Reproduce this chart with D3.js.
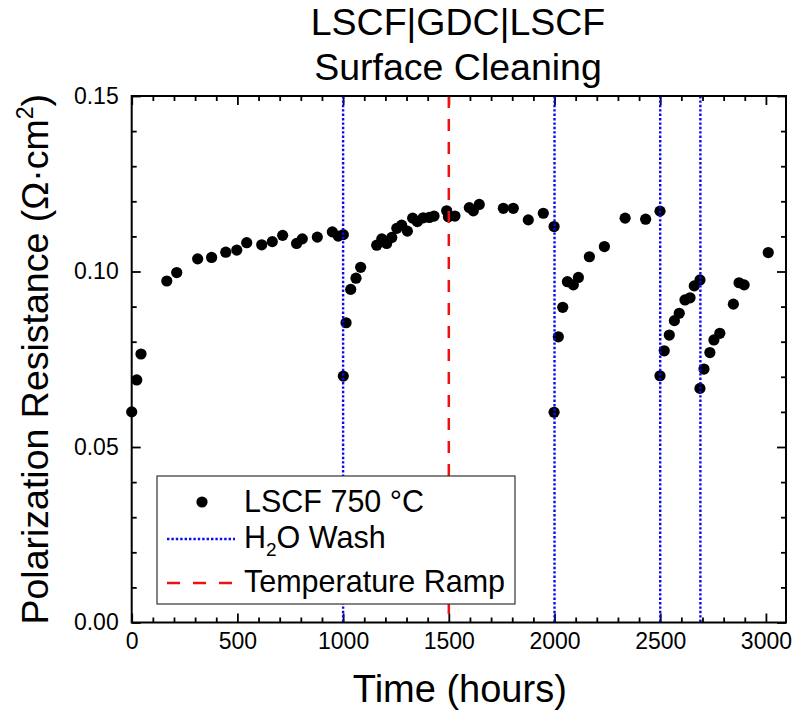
<!DOCTYPE html>
<html>
<head>
<meta charset="utf-8">
<script src="https://cdn.jsdelivr.net/npm/d3@7"></script>
<style>
  body { margin: 0; background: #fff; }
  text { font-family: "Liberation Sans", Arial, sans-serif; }
</style>
</head>
<body>
<div id="chart"></div>
<script>
// time (hours) and polarization resistance (ohm cm2)
const hours = [0, 24, 44, 166, 213, 312, 378, 445, 497, 544, 615, 665, 714, 780, 807, 878, 949, 977, 1001,
  1001, 1014, 1036, 1061, 1083, 1159, 1183, 1206, 1230, 1254, 1277, 1304, 1329, 1351, 1379, 1408, 1430,
  1490, 1498, 1529, 1597, 1616, 1644, 1758, 1805, 1876, 1947, 1998,
  1998, 2018, 2039, 2061, 2089, 2113, 2165, 2236, 2334, 2431, 2499,
  2499, 2519, 2543, 2567, 2590, 2617, 2641, 2661, 2688,
  2688, 2707, 2735, 2754, 2782, 2846, 2873, 2897, 3011];
const resistance = [0.0600, 0.0691, 0.0765, 0.0973, 0.0997, 0.1036, 0.1040, 0.1055, 0.1061, 0.1082, 0.1076, 0.1085, 0.1103, 0.1080, 0.1093, 0.1098, 0.1113, 0.1101, 0.1105,
  0.0702, 0.0854, 0.0949, 0.0981, 0.1012, 0.1075, 0.1093, 0.1080, 0.1097, 0.1123, 0.1132, 0.1115, 0.1152, 0.1142, 0.1153, 0.1154, 0.1158,
  0.1173, 0.1156, 0.1158, 0.1182, 0.1173, 0.1191, 0.1180, 0.1180, 0.1147, 0.1166, 0.1128,
  0.0599, 0.0814, 0.0898, 0.0971, 0.0962, 0.0983, 0.1042, 0.1071, 0.1152, 0.1149, 0.1172,
  0.0703, 0.0774, 0.0819, 0.0860, 0.0881, 0.0919, 0.0925, 0.0959, 0.0976,
  0.0667, 0.0722, 0.0769, 0.0805, 0.0824, 0.0907, 0.0968, 0.0962, 0.1054];
const wash_times = [1000, 2000, 2500, 2690];
const ramp_times = [1500];
const x_ticks = [0, 500, 1000, 1500, 2000, 2500, 3000];
const y_ticks = [0, 0.05, 0.10, 0.15];

const data = hours.map((h, i) => ({ hours: h, value: resistance[i] }));

const width = 792, height = 715;
const margin = { top: 96, right: 6, bottom: 92.5, left: 131.7 };
const inner_w = width - margin.left - margin.right;
const inner_h = height - margin.top - margin.bottom;
const wash_color = "#0a0af0", ramp_color = "#ee1111";

const svg = d3.select("#chart").append("svg")
    .attr("width", width)
    .attr("height", height);
svg.append("rect").attr("width", width).attr("height", height).attr("fill", "#fff");

const g = svg.append("g")
    .attr("transform", `translate(${margin.left},${margin.top})`);

const x = d3.scaleLinear().domain([0, 3095]).range([0, inner_w]);
const y = d3.scaleLinear().domain([0, 0.15]).range([inner_h, 0]);

const x_minor = d3.range(0, 3001, 100).filter(v => v % 500 !== 0);
const y_minor = d3.range(1, 15).map(v => v / 100).filter((v, i) => (i + 1) % 5 !== 0);

function style_axis(sel) {
    sel.select(".domain").remove();
    sel.selectAll("line").attr("stroke", "#000").attr("stroke-width", 1.8);
}

// bottom axis with labels, inward ticks
g.append("g").attr("transform", `translate(0,${inner_h})`)
    .call(d3.axisBottom(x).tickValues(x_ticks).tickSize(-9).tickPadding(10).tickFormat(d3.format("d")))
    .call(style_axis)
    .selectAll("text").attr("font-size", 23).attr("fill", "#000")
    .attr("font-family", "Liberation Sans, Arial, sans-serif");
g.append("g").attr("transform", `translate(0,${inner_h})`)
    .call(d3.axisBottom(x).tickValues(x_minor).tickSize(-5).tickFormat(""))
    .call(style_axis);
// top mirror
g.append("g")
    .call(d3.axisTop(x).tickValues(x_ticks).tickSize(-9).tickFormat(""))
    .call(style_axis);
g.append("g")
    .call(d3.axisTop(x).tickValues(x_minor).tickSize(-5).tickFormat(""))
    .call(style_axis);

// left axis
g.append("g")
    .call(d3.axisLeft(y).tickValues(y_ticks).tickSize(-9).tickPadding(13).tickFormat(d3.format(".2f")))
    .call(style_axis)
    .selectAll("text").attr("font-size", 23).attr("fill", "#000")
    .attr("font-family", "Liberation Sans, Arial, sans-serif");
g.append("g")
    .call(d3.axisLeft(y).tickValues(y_minor).tickSize(-5).tickFormat(""))
    .call(style_axis);
// right mirror
g.append("g").attr("transform", `translate(${inner_w},0)`)
    .call(d3.axisRight(y).tickValues(y_ticks).tickSize(-9).tickFormat(""))
    .call(style_axis);
g.append("g").attr("transform", `translate(${inner_w},0)`)
    .call(d3.axisRight(y).tickValues(y_minor).tickSize(-5).tickFormat(""))
    .call(style_axis);

// data points
g.selectAll(".dot")
    .data(data)
    .enter().append("circle")
    .attr("class", "dot")
    .attr("cx", d => x(d.hours))
    .attr("cy", d => y(d.value))
    .attr("r", 5.6)
    .attr("fill", "#000");

// wash and ramp markers
g.selectAll(".wash")
    .data(wash_times)
    .enter().append("line")
    .attr("class", "wash")
    .attr("x1", d => x(d)).attr("x2", d => x(d))
    .attr("y1", 0).attr("y2", inner_h)
    .attr("stroke", wash_color)
    .attr("stroke-width", 2.4)
    .attr("stroke-dasharray", "2.4,2");

g.selectAll(".ramp")
    .data(ramp_times)
    .enter().append("line")
    .attr("class", "ramp")
    .attr("x1", d => x(d)).attr("x2", d => x(d))
    .attr("y1", 0).attr("y2", inner_h)
    .attr("stroke", ramp_color)
    .attr("stroke-width", 2.5)
    .attr("stroke-dasharray", "12,11");

// frame
g.append("rect")
    .attr("width", inner_w)
    .attr("height", inner_h)
    .attr("fill", "none")
    .attr("stroke", "#000")
    .attr("stroke-width", 2);

// legend
const legend = svg.append("g").attr("transform", "translate(157,476)");
legend.append("rect")
    .attr("width", 358).attr("height", 128)
    .attr("fill", "#fff")
    .attr("stroke", "#333").attr("stroke-width", 1.2);
legend.append("circle").attr("cx", 45).attr("cy", 26).attr("r", 5.6).attr("fill", "#000");
legend.append("line").attr("x1", 10).attr("x2", 78).attr("y1", 63).attr("y2", 63)
    .attr("stroke", wash_color).attr("stroke-width", 2.4).attr("stroke-dasharray", "2.4,2");
legend.append("line").attr("x1", 10).attr("x2", 78).attr("y1", 107).attr("y2", 107)
    .attr("stroke", ramp_color).attr("stroke-width", 2.5).attr("stroke-dasharray", "13,13");
legend.append("text").attr("x", 87).attr("y", 36).attr("font-size", 30.5).text("LSCF 750 \u00B0C");
const wash_label = legend.append("text").attr("x", 87).attr("y", 72).attr("font-size", 30.5);
wash_label.append("tspan").text("H");
wash_label.append("tspan").attr("font-size", 19).attr("dy", 8).text("2");
wash_label.append("tspan").attr("dy", -8).text("O Wash");
legend.append("text").attr("x", 87).attr("y", 116).attr("font-size", 30.5).text("Temperature Ramp");

// titles
svg.append("text")
    .attr("x", 458).attr("y", 35)
    .attr("text-anchor", "middle").attr("font-size", 37.5)
    .text("LSCF|GDC|LSCF");
svg.append("text")
    .attr("x", 458).attr("y", 80)
    .attr("text-anchor", "middle").attr("font-size", 37.5)
    .text("Surface Cleaning");

svg.append("text")
    .attr("x", margin.left + inner_w / 2 + 1).attr("y", 702)
    .attr("text-anchor", "middle").attr("font-size", 38)
    .text("Time (hours)");

const y_label = svg.append("text")
    .attr("transform", `translate(48,${margin.top + inner_h / 2}) rotate(-90)`)
    .attr("text-anchor", "middle").attr("font-size", 37.5);
y_label.append("tspan").text("Polarization Resistance (\u03A9\u00B7cm");
y_label.append("tspan").attr("font-size", 23).attr("dy", -15).text("2");
y_label.append("tspan").attr("dy", 15).text(")");
</script>
</body>
</html>
